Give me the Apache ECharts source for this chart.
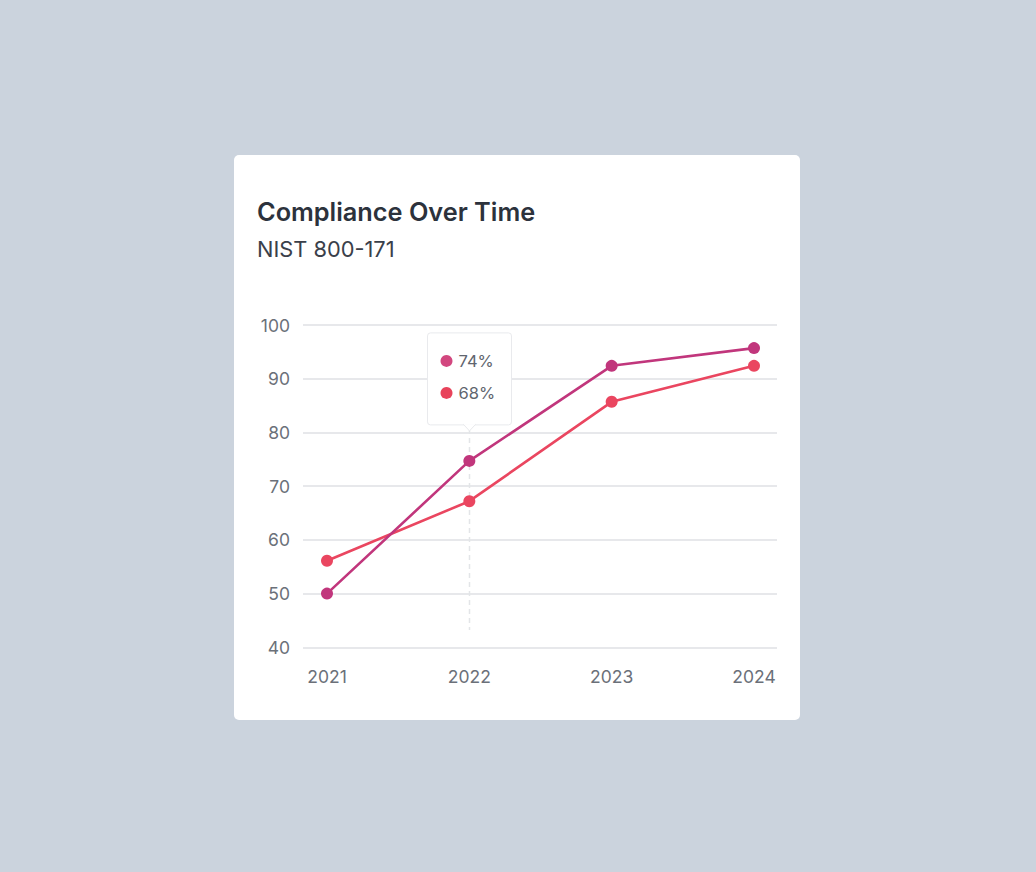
<!DOCTYPE html>
<html><head><meta charset="utf-8">
<script src="https://cdn.jsdelivr.net/npm/echarts@6/dist/echarts.min.js"></script>
<style>html,body{margin:0;padding:0;background:#cbd3dd}#c{width:1036px;height:872px}</style>
</head><body><div id="c"></div>
<script>
const categories = ['2021', '2022', '2023', '2024'];
const seriesPurple = [50, 74.7, 92.4, 95.7];
const seriesRed = [56.1, 67.2, 85.7, 92.4];
const yMin = 40, yMax = 100, yStep = 10;
const tooltipIndex = 1;
const tooltipLabels = ['74%', '68%'];
const titleText = 'Compliance Over Time';
const subtitleText = 'NIST 800-171';

const PURPLE = '#c1367c', RED = '#ea4660';
const FONT = 'Inter, "Noto Sans", sans-serif';

const chart = echarts.init(document.getElementById('c'), null, {renderer: 'svg'});
const gridTop = 325, gridBottom = 872 - 647.3;
const option = {
  animation: false,
  backgroundColor: '#cbd3dd',
  textStyle: {fontFamily: FONT},
  grid: [
    {left: 303, right: 1036 - 777, top: gridTop, bottom: gridBottom},
    {left: 327, right: 1036 - 754, top: gridTop, bottom: gridBottom}
  ],
  xAxis: [
    {type: 'category', gridIndex: 0, data: categories, show: false},
    {type: 'category', gridIndex: 1, data: categories, boundaryGap: false,
     axisLine: {show: false}, axisTick: {show: false},
     axisLabel: {color: '#6b7079', fontSize: 17.5, margin: 20, fontFamily: FONT}}
  ],
  yAxis: [
    {type: 'value', gridIndex: 0, min: yMin, max: yMax, interval: yStep,
     axisLine: {show: false}, axisTick: {show: false},
     axisLabel: {color: '#6b7079', fontSize: 17.5, margin: 13, fontFamily: FONT},
     splitLine: {lineStyle: {color: '#e7e8eb', width: 2}}},
    {type: 'value', gridIndex: 1, min: yMin, max: yMax, interval: yStep, show: false,
     splitLine: {show: false}}
  ],
  series: [
    {type: 'line', xAxisIndex: 1, yAxisIndex: 1, data: seriesPurple, z: 3,
     symbol: 'circle', symbolSize: 12,
     lineStyle: {color: PURPLE, width: 2.6}, itemStyle: {color: PURPLE}},
    {type: 'line', xAxisIndex: 1, yAxisIndex: 1, data: seriesRed, z: 2,
     symbol: 'circle', symbolSize: 12,
     lineStyle: {color: RED, width: 2.6}, itemStyle: {color: RED}}
  ]
};
chart.setOption(option);

const pA = chart.convertToPixel({xAxisIndex: 1, yAxisIndex: 1}, [categories[tooltipIndex], seriesPurple[tooltipIndex]]);
const pLow = chart.convertToPixel({xAxisIndex: 1, yAxisIndex: 1}, [categories[tooltipIndex], yMin + 3.2]);
const bw = 84, bh = 92;
const bx = Math.round(pA[0]) - bw / 2 + 0.5;
const by = pA[1] - 36 - bh;
const cx = bx + bw / 2;

chart.setOption({
  graphic: [
    {type: 'rect', z: -10, silent: true,
     shape: {x: 234, y: 155, width: 566, height: 565, r: 5},
     style: {fill: '#ffffff'}},
    {type: 'text', z: 10, x: 257, y: 211,
     style: {text: titleText, fontFamily: FONT, fontSize: 25.3, fontWeight: 600, fill: '#2c323c', textVerticalAlign: 'middle'}},
    {type: 'text', z: 10, x: 257, y: 249,
     style: {text: subtitleText, fontFamily: FONT, fontSize: 21.8, fontWeight: 400, fill: '#3a404a', textVerticalAlign: 'middle'}},
    {type: 'line', z: 1, silent: true,
     shape: {x1: cx, y1: by + bh + 4, x2: cx, y2: pLow[1]},
     style: {stroke: '#e3e5e8', lineWidth: 1.5, lineDash: [5, 4]}},
    {type: 'rect', z: 20, silent: true,
     shape: {x: bx, y: by, width: bw, height: bh, r: 3},
     style: {fill: '#ffffff', stroke: '#e9eaed', lineWidth: 1}},
    {type: 'polygon', z: 21, silent: true,
     shape: {points: [[cx - 6, by + bh - 0.5], [cx, by + bh + 6], [cx + 6, by + bh - 0.5]]},
     style: {fill: '#ffffff', stroke: '#e9eaed', lineWidth: 1}},
    {type: 'rect', z: 22, silent: true,
     shape: {x: cx - 5.5, y: by + bh - 2, width: 11, height: 2},
     style: {fill: '#ffffff'}},
    {type: 'circle', z: 23, shape: {cx: bx + 19, cy: by + 28, r: 6}, style: {fill: '#d2477f'}},
    {type: 'circle', z: 23, shape: {cx: bx + 19, cy: by + 60, r: 6}, style: {fill: '#e8435b'}},
    {type: 'text', z: 23, x: bx + 31, y: by + 28,
     style: {text: tooltipLabels[0], fontFamily: FONT, fontSize: 16.5, fill: '#60656e', textVerticalAlign: 'middle'}},
    {type: 'text', z: 23, x: bx + 31, y: by + 60,
     style: {text: tooltipLabels[1], fontFamily: FONT, fontSize: 16.5, fill: '#60656e', textVerticalAlign: 'middle'}}
  ]
});
</script></body></html>
